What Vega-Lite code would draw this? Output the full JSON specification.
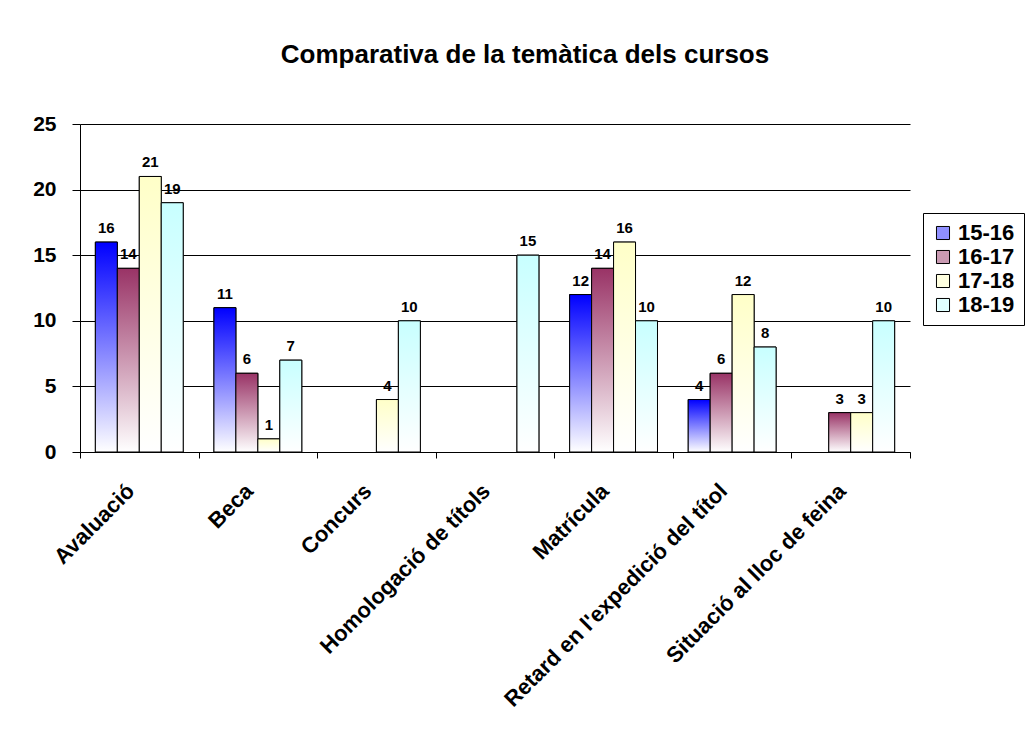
{
  "$schema": "https://vega.github.io/schema/vega-lite/v6.json",
  "width": 830,
  "height": 328,
  "autosize": {"type": "none"},
  "padding": {"left": 80, "top": 124, "right": 122, "bottom": 295},
  "background": "white",
  "config": {"view": {"stroke": null}},
  "title": {
    "text": "Comparativa de la temàtica dels cursos",
    "fontSize": 26,
    "font": "Liberation Sans",
    "fontWeight": "bold",
    "color": "black",
    "anchor": "middle",
    "offset": 45,
    "dx": 30
  },
  "data": {
    "values": [
      {"tema": "Avaluació", "curs": "15-16", "valor": 16},
      {"tema": "Avaluació", "curs": "16-17", "valor": 14},
      {"tema": "Avaluació", "curs": "17-18", "valor": 21},
      {"tema": "Avaluació", "curs": "18-19", "valor": 19},
      {"tema": "Beca", "curs": "15-16", "valor": 11},
      {"tema": "Beca", "curs": "16-17", "valor": 6},
      {"tema": "Beca", "curs": "17-18", "valor": 1},
      {"tema": "Beca", "curs": "18-19", "valor": 7},
      {"tema": "Concurs", "curs": "17-18", "valor": 4},
      {"tema": "Concurs", "curs": "18-19", "valor": 10},
      {"tema": "Homologació de títols", "curs": "18-19", "valor": 15},
      {"tema": "Matrícula", "curs": "15-16", "valor": 12},
      {"tema": "Matrícula", "curs": "16-17", "valor": 14},
      {"tema": "Matrícula", "curs": "17-18", "valor": 16},
      {"tema": "Matrícula", "curs": "18-19", "valor": 10},
      {"tema": "Retard en l'expedició del títol", "curs": "15-16", "valor": 4},
      {"tema": "Retard en l'expedició del títol", "curs": "16-17", "valor": 6},
      {"tema": "Retard en l'expedició del títol", "curs": "17-18", "valor": 12},
      {"tema": "Retard en l'expedició del títol", "curs": "18-19", "valor": 8},
      {"tema": "Situació al lloc de feina", "curs": "16-17", "valor": 3},
      {"tema": "Situació al lloc de feina", "curs": "17-18", "valor": 3},
      {"tema": "Situació al lloc de feina", "curs": "18-19", "valor": 10}
    ]
  },
  "encoding": {
    "x": {
      "field": "tema",
      "type": "nominal",
      "sort": ["Avaluació", "Beca", "Concurs", "Homologació de títols", "Matrícula", "Retard en l'expedició del títol", "Situació al lloc de feina"],
      "scale": {"domain": ["Avaluació", "Beca", "Concurs", "Homologació de títols", "Matrícula", "Retard en l'expedició del títol", "Situació al lloc de feina"], "paddingInner": 0, "paddingOuter": 0},
      "axis": {
        "title": null,
        "labelAngle": -45,
        "labelFontSize": 22,
        "labelFontWeight": "bold",
        "labelFont": "Liberation Sans",
        "labelColor": "black",
        "labelLimit": 0,
        "labelOffset": -16,
        "domainColor": "black",
        "tickColor": "black",
        "tickBand": "extent",
        "tickSize": 6,
        "labelPadding": 22,
        "grid": false
      }
    },
    "xOffset": {
      "field": "curs",
      "type": "nominal",
      "scale": {"domain": ["15-16", "16-17", "17-18", "18-19"], "paddingInner": 0, "paddingOuter": 0.7}
    },
    "y": {
      "field": "valor",
      "type": "quantitative",
      "scale": {"domain": [0, 25]},
      "axis": {
        "title": null,
        "values": [0, 5, 10, 15, 20, 25],
        "labelFontSize": 21,
        "labelFont": "Liberation Sans",
        "labelFontWeight": "bold",
        "labelColor": "black",
        "tickColor": "black",
        "tickSize": 8,
        "domainColor": "black",
        "gridColor": "black",
        "gridOpacity": 1,
        "labelPadding": 16
      }
    }
  },
  "layer": [
    {
      "mark": {"type": "bar", "stroke": "black", "strokeWidth": 1},
      "encoding": {
        "color": {
          "field": "curs",
          "type": "nominal",
          "scale": {
            "domain": ["15-16", "16-17", "17-18", "18-19"],
            "range": ["#9090ff", "#c99ab2", "#ffffe0", "#e0ffff"]
          },
          "legend": {
            "title": null,
            "orient": "none",
            "legendX": 843,
            "legendY": 89,
            "strokeColor": "black",
            "fillColor": "white",
            "padding": 9,
            "symbolType": "square",
            "symbolSize": 170,
            "symbolStrokeColor": "black",
            "symbolStrokeWidth": 1,
            "symbolOpacity": 1,
            "labelFontSize": 22,
            "labelFontWeight": "bold",
            "labelFont": "Liberation Sans",
            "labelColor": "black",
            "labelOffset": 4,
            "rowPadding": 2
          }
        }
      }
    },
    {
      "transform": [{"filter": "datum.curs === '15-16'"}],
      "mark": {"type": "bar", "stroke": "black", "strokeWidth": 1, "color": {"gradient": "linear", "x1": 0, "y1": 0, "x2": 0, "y2": 1, "stops": [{"offset": 0, "color": "#0000ff"}, {"offset": 1, "color": "#ffffff"}]}}
    },
    {
      "transform": [{"filter": "datum.curs === '16-17'"}],
      "mark": {"type": "bar", "stroke": "black", "strokeWidth": 1, "color": {"gradient": "linear", "x1": 0, "y1": 0, "x2": 0, "y2": 1, "stops": [{"offset": 0, "color": "#993366"}, {"offset": 1, "color": "#ffffff"}]}}
    },
    {
      "transform": [{"filter": "datum.curs === '17-18'"}],
      "mark": {"type": "bar", "stroke": "black", "strokeWidth": 1, "color": {"gradient": "linear", "x1": 0, "y1": 0, "x2": 0, "y2": 1, "stops": [{"offset": 0, "color": "#ffffc8"}, {"offset": 1, "color": "#ffffff"}]}}
    },
    {
      "transform": [{"filter": "datum.curs === '18-19'"}],
      "mark": {"type": "bar", "stroke": "black", "strokeWidth": 1, "color": {"gradient": "linear", "x1": 0, "y1": 0, "x2": 0, "y2": 1, "stops": [{"offset": 0, "color": "#c8ffff"}, {"offset": 1, "color": "#ffffff"}]}}
    },
    {
      "mark": {"type": "text", "baseline": "bottom", "dy": -6, "fontSize": 15, "fontWeight": "bold", "font": "Liberation Sans", "color": "black"},
      "encoding": {"text": {"field": "valor", "type": "quantitative"}}
    }
  ]
}
